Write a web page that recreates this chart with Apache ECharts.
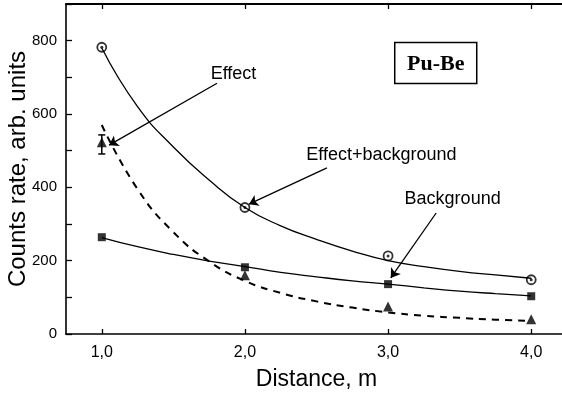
<!DOCTYPE html>
<html>
<head>
<meta charset="utf-8">
<script src="https://cdn.jsdelivr.net/npm/echarts@6/dist/echarts.min.js"></script>
<style>
html,body{margin:0;padding:0;background:#fff;}
#c{width:562px;height:395px;}
</style>
</head>
<body>
<div id="c"></div>
<script>
// ---- data ----
const xTicks = [1, 2, 3, 4];
const yLabels = [0, 200, 400, 600, 800];
const yRightTicks = [200, 400, 600, 800];

const distances = [1, 2, 3, 4];
const effectBackground = [782, 345, 213, 148];
const background = [264, 182, 136, 103];
const effect = [523, 160, 75, 40];

const errX = [1];
const errLow = [491];
const errHigh = [543];

const fitX = [1.0, 1.25, 1.5, 1.75, 2.0, 2.25, 2.5, 2.75, 3.0, 3.25, 3.5, 3.75, 4.0];
const fitEffectBackground = [780, 620, 510, 420, 345, 295, 258, 226, 200, 184, 171, 161, 152];
const fitBackground = [263, 238, 217, 199, 184, 168, 156, 145, 136, 126, 117, 110, 104];
const fitEffect = [570, 395, 278, 198, 145, 112, 89, 72, 59, 50, 44, 39, 36];

// annotation anchors in data coordinates
const annTexts = ['Effect', 'Effect+background', 'Background'];
const annTextPos = [[1.92, 709], [2.954, 488], [3.451, 368]];
const arrowFrom = [[1.805, 684], [2.573, 453], [3.336, 330]];
const arrowTo = [[1.051, 515], [2.028, 354], [3.019, 153]];
const boxLabel = 'Pu-Be';
const boxCenter = [3.333, 739];

const pairs = (xs, ys) => xs.map((x, i) => [x, ys[i]]);
const black = '#000';
const fmtX = v => v.toFixed(1).replace('.', ',');

const chart = echarts.init(document.getElementById('c'), null, {renderer: 'canvas'});

const axisLine = {show: true, onZero: false, lineStyle: {color: black, width: 1.6}};

const option = {
  animation: false,
  backgroundColor: '#fff',
  grid: {left: 66, top: 4, right: -5, bottom: 61, containLabel: false, outerBoundsMode: 'none'},
  xAxis: [
    {
      type: 'value', min: 0.75, max: 4.25, position: 'bottom',
      axisLine: axisLine,
      axisTick: {show: true, inside: true, length: 5, customValues: xTicks, lineStyle: {color: black, width: 1.3}},
      axisLabel: {show: true, customValues: xTicks, formatter: fmtX, color: black, fontSize: 16,
        fontFamily: 'Liberation Sans, Arial, sans-serif', margin: 11},
      splitLine: {show: false},
      name: 'Distance, m', nameLocation: 'middle', nameGap: 34, nameMoveOverlap: false,
      nameTextStyle: {fontSize: 23, color: black, fontFamily: 'Liberation Sans, Arial, sans-serif'}
    },
    {
      type: 'value', min: 0.75, max: 4.25, position: 'top',
      axisLine: {show: true, onZero: false, lineStyle: {color: black, width: 2}},
      axisTick: {show: true, inside: true, length: 5, customValues: xTicks, lineStyle: {color: black, width: 1.3}},
      axisLabel: {show: false},
      splitLine: {show: false}
    }
  ],
  yAxis: [
    {
      type: 'value', min: 0, max: 900, interval: 100, position: 'left',
      axisLine: axisLine,
      axisTick: {show: true, inside: true, length: 6, lineStyle: {color: black, width: 1.3}},
      axisLabel: {show: true, customValues: yLabels, color: black, fontSize: 15,
        fontFamily: 'Liberation Sans, Arial, sans-serif', margin: 9},
      splitLine: {show: false},
      name: 'Counts rate, arb. units', nameLocation: 'middle', nameGap: 36, nameMoveOverlap: false,
      nameTextStyle: {fontSize: 24, color: black, fontFamily: 'Liberation Sans, Arial, sans-serif'}
    },
    {
      type: 'value', min: 0, max: 900, position: 'right',
      axisLine: axisLine,
      axisTick: {show: true, inside: true, length: 5, customValues: yRightTicks, lineStyle: {color: black, width: 1.3}},
      axisLabel: {show: false},
      splitLine: {show: false}
    }
  ],
  series: [
    {
      name: 'fitEffBg', type: 'line', smooth: true, showSymbol: false, silent: true,
      data: pairs(fitX, fitEffectBackground),
      lineStyle: {color: black, width: 1.3}
    },
    {
      name: 'fitBg', type: 'line', smooth: true, showSymbol: false, silent: true,
      data: pairs(fitX, fitBackground),
      lineStyle: {color: black, width: 1.3}
    },
    {
      name: 'fitEff', type: 'line', smooth: true, showSymbol: false, silent: true,
      data: pairs(fitX, fitEffect),
      lineStyle: {color: black, width: 2, type: [7, 6]}
    },
    {
      name: 'errorbar', type: 'custom', silent: true,
      data: errX.map((x, i) => [x, errLow[i], errHigh[i]]),
      renderItem: function (params, api) {
        const lo = api.coord([api.value(0), api.value(1)]);
        const hi = api.coord([api.value(0), api.value(2)]);
        const w = 3.5;
        const st = {stroke: black, lineWidth: 1.5};
        return {
          type: 'group', children: [
            {type: 'line', shape: {x1: lo[0], y1: lo[1], x2: hi[0], y2: hi[1]}, style: st},
            {type: 'line', shape: {x1: lo[0] - w, y1: lo[1], x2: lo[0] + w, y2: lo[1]}, style: st},
            {type: 'line', shape: {x1: hi[0] - w, y1: hi[1], x2: hi[0] + w, y2: hi[1]}, style: st}
          ]
        };
      }
    },
    {
      name: 'Background', type: 'scatter', symbol: 'rect', symbolSize: 8, silent: true,
      data: pairs(distances, background),
      itemStyle: {color: black},
      markLine: {
        silent: true, symbol: ['none', 'arrow'], symbolSize: 9,
        lineStyle: {color: black, width: 1.3, type: 'solid'},
        label: {show: false},
        data: arrowFrom.map((f, i) => [{coord: f}, {coord: arrowTo[i]}])
      }
    },
    {
      name: 'Effect', type: 'scatter', symbol: 'triangle', symbolSize: 10, silent: true,
      data: pairs(distances, effect),
      itemStyle: {color: black}
    },
    {
      name: 'Effect+background', type: 'scatter', symbol: 'circle', symbolSize: 9, silent: true,
      data: pairs(distances, effectBackground),
      itemStyle: {color: '#fff', borderColor: black, borderWidth: 1.8}
    },
    {
      name: 'Effect+background dot', type: 'scatter', symbol: 'circle', symbolSize: 3, silent: true,
      data: pairs(distances, effectBackground),
      itemStyle: {color: black}
    }
  ]
};
chart.setOption(option);

const toPx = p => chart.convertToPixel({xAxisIndex: 0, yAxisIndex: 0}, p);
const graphics = annTexts.map((t, i) => {
  const p = toPx(annTextPos[i]);
  return {
    type: 'text', x: p[0], y: p[1], silent: true,
    style: {text: t, fill: black, fontSize: 18, fontFamily: 'Liberation Sans, Arial, sans-serif',
      align: 'center', verticalAlign: 'middle'}
  };
});
const bc = toPx(boxCenter);
graphics.push({
  type: 'rect', silent: true,
  shape: {x: bc[0] - 41, y: bc[1] - 20.5, width: 82, height: 41},
  style: {fill: '#fff', stroke: black, lineWidth: 1.5}
});
graphics.push({
  type: 'text', x: bc[0], y: bc[1] + 1, silent: true,
  style: {text: boxLabel, fill: black, fontSize: 22, fontWeight: 'bold',
    fontFamily: 'Liberation Serif, Times New Roman, serif', align: 'center', verticalAlign: 'middle'}
});
chart.setOption({graphic: graphics});
</script>
</body>
</html>
